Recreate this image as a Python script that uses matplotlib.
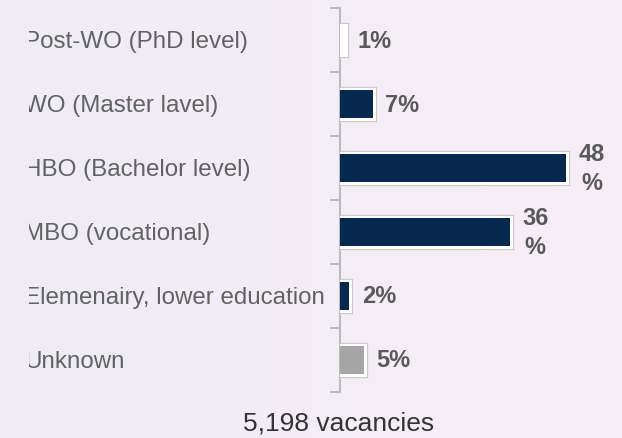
import matplotlib
matplotlib.use("Agg")
import matplotlib.pyplot as plt
import matplotlib.patheffects as pe
from matplotlib.transforms import Bbox, TransformedBbox, blended_transform_factory
import numpy as np

categories = [
    "Post-WO (PhD level)",
    "WO (Master lavel)",
    "HBO (Bachelor level)",
    "MBO (vocational)",
    "Elemenairy, lower education",
    "Unknown",
]
values = [1, 7, 48, 36, 2, 5]
value_labels = ["1%", "7%", "48\n%", "36\n%", "2%", "5%"]
bar_colors = ["#ffffff", "#06284f", "#06284f", "#06284f", "#06284f", "#a6a6a6"]
footer = "5,198 vacancies"

plt.rcParams["font.family"] = ["Liberation Sans", "DejaVu Sans"]

W, H = 622, 439
fig = plt.figure(figsize=(W / 100, H / 100), dpi=100)

# background gradient
bg = fig.add_axes([0, 0, 1, 1], zorder=-10)
c1 = np.array([239, 236, 247]) / 255
c2 = np.array([248, 238, 246]) / 255
t = np.linspace(0, 1, 256)
grad = (c1[None, :] * (1 - t[:, None]) + c2[None, :] * t[:, None])[None, :, :]
bg.imshow(grad, aspect="auto", extent=[0, 1, 0, 1])
bg.set_axis_off()

left_px, right_px = 340, 622
top_px, bot_px = 9, 393
ax = fig.add_axes([left_px / W, (H - bot_px) / H, (right_px - left_px) / W, (bot_px - top_px) / H])
ax.patch.set_alpha(0)

y = np.arange(len(categories))
bars = ax.barh(y, values, height=0.44, color=bar_colors, edgecolor="none", zorder=3)
for b in bars:
    b.set_path_effects([
        pe.Stroke(linewidth=5.2, foreground="#c2c2c2"),
        pe.Stroke(linewidth=3.8, foreground="white"),
        pe.Normal(),
    ])

ax.set_xlim(0, (right_px - left_px) / 4.71)
ax.set_ylim(len(categories) - 0.5, -0.5)

for sp in ["top", "right", "bottom"]:
    ax.spines[sp].set_visible(False)
ax.spines["left"].set_color("#b5b5b5")
ax.spines["left"].set_linewidth(1.3)
ax.set_xticks([])
ax.set_yticks(np.arange(-0.5, len(categories), 1.0))
ax.set_yticklabels([])
ax.tick_params(axis="y", length=7, width=1.3, color="#b5b5b5", direction="out")

for yi, v, lab in zip(y, values, value_labels):
    ax.annotate(lab, xy=(v, yi), xytext=(9, 0), textcoords="offset points",
                ha="left", va="center", multialignment="center",
                fontsize=17, fontweight="bold", color="#595959", linespacing=1.3,
                zorder=4)

clip = TransformedBbox(Bbox([[28.5 / W, 0], [1, 1]]), fig.transFigure)
trans = blended_transform_factory(fig.transFigure, ax.transData)
for yi, cat in zip(y, categories):
    txt = ax.text(24 / W, yi + 0.02, cat, transform=trans,
                  ha="left", va="center", fontsize=17.35, color="#626262", clip_on=True)
    txt.set_clip_box(clip)

fig.text(339 / W, 1 - 424 / H, footer, ha="center", va="center", fontsize=19, color="#333333")

fig.savefig("out.png", dpi=100)
